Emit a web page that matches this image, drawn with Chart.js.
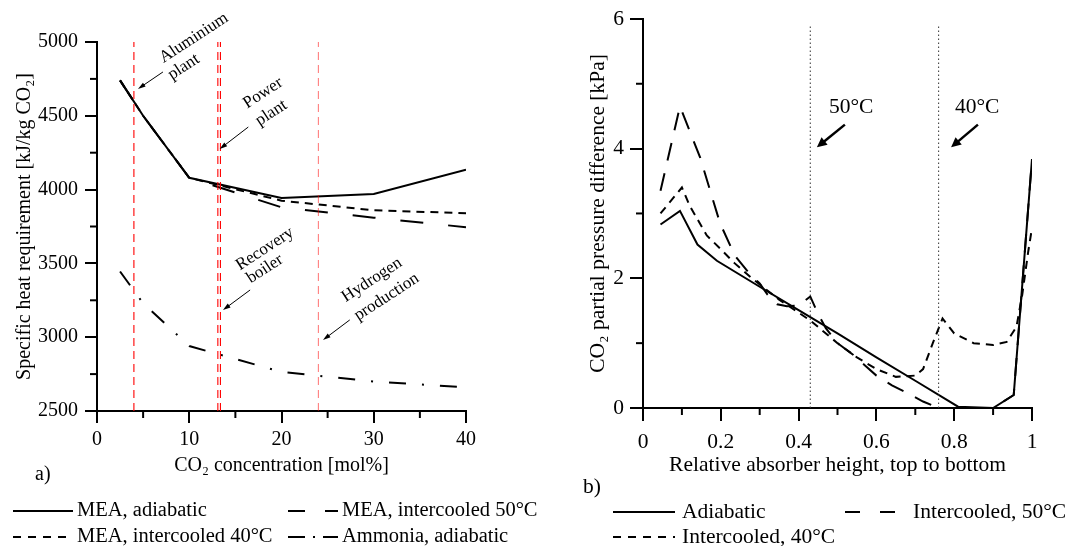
<!DOCTYPE html>
<html lang="en">
<head>
<meta charset="UTF-8">
<title>Heat requirement and CO2 partial pressure difference</title>
<script src="https://cdn.jsdelivr.net/npm/chart.js"></script>
<style>
  body { margin: 0; background: #fff; }
  .wrap { position: relative; width: 1070px; height: 546px; }
  #chartA { position: absolute; left: 0; top: 0; }
  #chartB { position: absolute; left: 560px; top: 0; }
</style>
</head>
<body>
<div class="wrap">
  <canvas id="chartA" width="560" height="546"></canvas>
  <canvas id="chartB" width="510" height="546"></canvas>
</div>
<script>
// ---- panel a) specific heat requirement vs CO2 concentration
const concentration = [2.5, 5, 10, 20, 30, 40];
const meaAdiabatic = [4740, 4500, 4080, 3943, 3970, 4135];
const meaIntercooled50 = [4740, 4500, 4080, 3880, 3810, 3745];
const meaIntercooled40 = [4740, 4500, 4080, 3925, 3860, 3840];
const ammoniaAdiabatic = [3445, 3230, 2940, 2765, 2700, 2660];
const sourceConc = [4, 13.1, 13.38, 24];   // aluminium, power plant, recovery boiler, hydrogen
const heatRange = [2500, 5000];
const concRange = [0, 40];
const heatMinor = [2750, 3250, 3750, 4250, 4750];
const concMinor = [5, 15, 25, 35];

// ---- panel b) CO2 partial pressure difference along the absorber
const hAdiabatic = [0.045, 0.095, 0.14, 0.19, 0.3, 0.4, 0.5, 0.6, 0.7, 0.81, 0.9, 0.953, 1.0];
const dpAdiabatic = [2.83, 3.04, 2.52, 2.27, 1.87, 1.51, 1.15, 0.78, 0.42, 0.02, 0.0, 0.2, 3.84];
const h50 = [0.045, 0.095, 0.147, 0.198, 0.236, 0.27, 0.3, 0.32, 0.345, 0.37, 0.4, 0.43, 0.45, 0.47, 0.5, 0.54, 0.57, 0.6, 0.64, 0.68, 0.72, 0.76, 0.9, 0.953, 1.0];
const dp50 = [3.35, 4.65, 3.86, 2.85, 2.35, 2.1, 1.92, 1.75, 1.6, 1.57, 1.58, 1.72, 1.45, 1.23, 1.0, 0.82, 0.66, 0.5, 0.35, 0.23, 0.1, 0.0, 0.0, 0.2, 3.84];
const h40 = [0.045, 0.1, 0.12, 0.164, 0.198, 0.236, 0.28, 0.35, 0.43, 0.5, 0.55, 0.6, 0.65, 0.7, 0.72, 0.745, 0.77, 0.8, 0.85, 0.9, 0.935, 0.96, 0.975, 0.99, 1.0];
const dp40 = [3.0, 3.4, 3.12, 2.66, 2.46, 2.23, 2.0, 1.67, 1.35, 1.0, 0.78, 0.6, 0.48, 0.5, 0.6, 1.0, 1.38, 1.15, 1.0, 0.97, 1.02, 1.25, 1.75, 2.4, 2.78];
const intercoolerHeight = [0.43, 0.76];
const intercoolerTop = 5.9;
const dpRange = [0, 6];
const heightRange = [0, 1];
const dpMinor = [1, 3, 5];
const heightMinor = [0.1, 0.3, 0.5, 0.7, 0.9];

const SERIF = "'Liberation Serif', 'Times New Roman', serif";
Chart.defaults.font.family = SERIF;
Chart.defaults.font.size = 20;
Chart.defaults.color = '#000';

function series(label, xs, ys, dash) {
    return {
        label: label,
        data: xs.map((x, i) => ({ x: x, y: ys[i] })),
        borderColor: '#000', borderWidth: 2, borderDash: dash,
        pointRadius: 0, tension: 0, fill: false
    };
}

function vline(x, y0, y1, color, width, dash) {
    return {
        label: '', data: [{ x: x, y: y0 }, { x: x, y: y1 }],
        borderColor: color, borderWidth: width, borderDash: dash,
        pointRadius: 0, fill: false
    };
}

function axis(min, max, step, size, tickLen, pad, fontSize, title, titlePad) {
    return {
        type: 'linear', min: min, max: max,
        afterFit: s => { if (s.isHorizontal()) s.height = size; else s.width = size; },
        ticks: {
            stepSize: step, padding: pad, maxRotation: 0, autoSkip: false,
            font: { size: fontSize },
            callback: v => String(+v.toFixed(2))
        },
        grid: { drawOnChartArea: false, drawTicks: true, tickLength: tickLen, color: '#000', lineWidth: 2 },
        border: { color: '#000', width: 2 },
        title: { display: true, text: title, font: { size: fontSize }, padding: titlePad }
    };
}

function arrow(ctx, x1, y1, x2, y2, head, spread, width) {
    const a = Math.atan2(y2 - y1, x2 - x1);
    ctx.lineWidth = width;
    ctx.beginPath();
    ctx.moveTo(x1, y1);
    ctx.lineTo(x2 - Math.cos(a) * head * 0.7, y2 - Math.sin(a) * head * 0.7);
    ctx.stroke();
    ctx.beginPath();
    ctx.moveTo(x2, y2);
    ctx.lineTo(x2 - head * Math.cos(a - spread), y2 - head * Math.sin(a - spread));
    ctx.lineTo(x2 - head * Math.cos(a + spread), y2 - head * Math.sin(a + spread));
    ctx.closePath();
    ctx.fill();
}

function drawMinor(chart, xs, ys, len) {
    const { ctx, scales: { x, y } } = chart;
    ctx.save();
    ctx.strokeStyle = '#000';
    ctx.lineWidth = 2;
    xs.forEach(v => {
        const px = x.getPixelForValue(v);
        ctx.beginPath(); ctx.moveTo(px, y.bottom); ctx.lineTo(px, y.bottom + len); ctx.stroke();
    });
    ys.forEach(v => {
        const py = y.getPixelForValue(v);
        ctx.beginPath(); ctx.moveTo(x.left, py); ctx.lineTo(x.left - len, py); ctx.stroke();
    });
    ctx.restore();
}

function drawLegend(ctx, items, size) {
    ctx.save();
    ctx.strokeStyle = '#000';
    ctx.fillStyle = '#000';
    ctx.lineWidth = 2;
    ctx.font = size + 'px ' + SERIF;
    ctx.textBaseline = 'middle';
    items.forEach(it => {
        ctx.setLineDash(it.dash);
        ctx.beginPath(); ctx.moveTo(it.x0, it.y); ctx.lineTo(it.x1, it.y); ctx.stroke();
        ctx.setLineDash([]);
        ctx.fillText(it.text, it.tx, it.y);
    });
    ctx.restore();
}

// source annotations for panel a (data coordinates)
const sourceNotes = [
    { lines: [['Aluminium', 10.5, 5027], ['plant', 9.4, 4831]], from: [7.15, 4797], to: [4.44, 4682] },
    { lines: [['Power', 18.0, 4654], ['plant', 18.9, 4519]], from: [16.4, 4424], to: [13.3, 4275] },
    { lines: [['Recovery', 18.2, 3598], ['boiler', 18.2, 3462]], from: [16.6, 3320], to: [13.66, 3184] },
    { lines: [['Hydrogen', 29.8, 3388], ['production', 31.4, 3272]], from: [27.4, 3117], to: [24.5, 2981] }
];

const decorA = {
    id: 'decorA',
    afterDraw(chart) {
        const { ctx, scales: { x, y } } = chart;
        drawMinor(chart, concMinor, heatMinor, 7);
        ctx.save();
        ctx.fillStyle = '#000';
        ctx.strokeStyle = '#000';
        ctx.font = '17px ' + SERIF;
        ctx.textAlign = 'center';
        ctx.textBaseline = 'middle';
        sourceNotes.forEach(n => {
            n.lines.forEach(l => {
                ctx.save();
                ctx.translate(x.getPixelForValue(l[1]), y.getPixelForValue(l[2]));
                ctx.rotate(-33 * Math.PI / 180);
                ctx.fillText(l[0], 0, 0);
                ctx.restore();
            });
            arrow(ctx, x.getPixelForValue(n.from[0]), y.getPixelForValue(n.from[1]),
                x.getPixelForValue(n.to[0]), y.getPixelForValue(n.to[1]), 8, 0.3, 1);
        });
        ctx.font = '20px ' + SERIF;
        ctx.textAlign = 'left';
        ctx.fillText('a)', 35, 475);
        ctx.restore();
        drawLegend(ctx, [
            { text: 'MEA, adiabatic', dash: [], x0: 13, x1: 73, tx: 77, y: 511 },
            { text: 'MEA, intercooled 50°C', dash: [17, 20], x0: 288, x1: 338, tx: 342, y: 511 },
            { text: 'MEA, intercooled 40°C', dash: [8, 7], x0: 13, x1: 73, tx: 77, y: 537 },
            { text: 'Ammonia, adiabatic', dash: [17, 8, 2, 8], x0: 288, x1: 338, tx: 342, y: 537 }
        ], 20.5);
    }
};

const decorB = {
    id: 'decorB',
    afterDraw(chart) {
        const { ctx, scales: { x, y } } = chart;
        drawMinor(chart, heightMinor, dpMinor, 7);
        ctx.save();
        ctx.fillStyle = '#000';
        ctx.strokeStyle = '#000';
        ctx.font = '21.5px ' + SERIF;
        ctx.textAlign = 'center';
        ctx.textBaseline = 'middle';
        ctx.fillText('50°C', x.getPixelForValue(0.535), y.getPixelForValue(4.63));
        ctx.fillText('40°C', x.getPixelForValue(0.859), y.getPixelForValue(4.63));
        arrow(ctx, x.getPixelForValue(0.519), y.getPixelForValue(4.37),
            x.getPixelForValue(0.447), y.getPixelForValue(4.02), 11, 0.45, 2.5);
        arrow(ctx, x.getPixelForValue(0.861), y.getPixelForValue(4.37),
            x.getPixelForValue(0.792), y.getPixelForValue(4.02), 11, 0.45, 2.5);
        ctx.textAlign = 'left';
        ctx.fillText('b)', 23, 487);
        ctx.restore();
        drawLegend(ctx, [
            { text: 'Adiabatic', dash: [], x0: 53, x1: 115, tx: 122, y: 512 },
            { text: 'Intercooled, 50°C', dash: [15, 20], x0: 285, x1: 335, tx: 353, y: 512 },
            { text: 'Intercooled, 40°C', dash: [8, 7], x0: 53, x1: 115, tx: 122, y: 537 }
        ], 21.5);
    }
};

new Chart(document.getElementById('chartA'), {
    type: 'line',
    data: {
        datasets: [
            ...sourceConc.map((c, i) => vline(c, heatRange[0], heatRange[1],
                i === 3 ? 'rgba(255,0,0,0.5)' : '#ff0000', 1.1, [8, 5])),
            series('MEA, adiabatic', concentration, meaAdiabatic, []),
            series('MEA, intercooled 50°C', concentration, meaIntercooled50, [23, 25]),
            series('MEA, intercooled 40°C', concentration, meaIntercooled40, [8, 6]),
            series('Ammonia, adiabatic', concentration, ammoniaAdiabatic, [17, 16, 2, 16])
        ]
    },
    options: {
        responsive: false,
        animation: false,
        layout: { padding: { top: 42, right: 94, left: 0, bottom: 0 } },
        plugins: { legend: { display: false }, tooltip: { enabled: false } },
        scales: {
            x: axis(concRange[0], concRange[1], 10, 135, 12, 5, 20, 'CO₂ concentration [mol%]', { top: 0, bottom: 68 }),
            y: axis(heatRange[0], heatRange[1], 500, 97, 12, 7, 20, 'Specific heat requirement [kJ/kg CO₂]', { top: 13, bottom: 0 })
        }
    },
    plugins: [decorA]
});

new Chart(document.getElementById('chartB'), {
    type: 'line',
    data: {
        datasets: [
            ...intercoolerHeight.map(h => vline(h, dpRange[0], intercoolerTop, '#333', 1, [1.5, 2.5])),
            series('Adiabatic', hAdiabatic, dpAdiabatic, []),
            series('Intercooled, 50°C', h50, dp50, [18, 13]),
            series('Intercooled, 40°C', h40, dp40, [8, 6])
        ]
    },
    options: {
        responsive: false,
        animation: false,
        layout: { padding: { top: 18, right: 38, left: 0, bottom: 0 } },
        plugins: { legend: { display: false }, tooltip: { enabled: false } },
        scales: {
            x: axis(heightRange[0], heightRange[1], 0.2, 138, 13, 8, 21.5, 'Relative absorber height, top to bottom', { top: 0, bottom: 68 }),
            y: axis(dpRange[0], dpRange[1], 2, 83, 13, 6, 21.5, 'CO₂ partial pressure difference [kPa]', { top: 25, bottom: 0 })
        }
    },
    plugins: [decorB]
});
</script>
</body>
</html>
